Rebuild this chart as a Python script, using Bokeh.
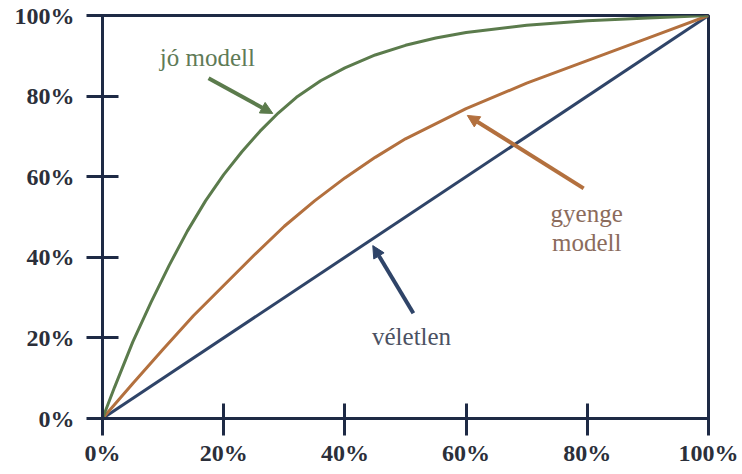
from bokeh.plotting import figure
from bokeh.models import Range1d, NumeralTickFormatter, FixedTicker, Arrow, NormalHead
from bokeh.core.properties import value
from bokeh.embed import file_html
from bokeh.resources import INLINE

# data (fractions)
x_good = [0, 0.02, 0.05, 0.08, 0.11, 0.14, 0.17, 0.20, 0.23, 0.26, 0.29, 0.32, 0.36, 0.40,
          0.45, 0.50, 0.55, 0.60, 0.70, 0.80, 0.90, 1.0]
y_good = [0, 0.078, 0.190, 0.288, 0.380, 0.465, 0.540, 0.605, 0.662, 0.713, 0.758, 0.797,
          0.838, 0.870, 0.902, 0.926, 0.944, 0.958, 0.976, 0.987, 0.994, 1.0]
x_weak = [0, 0.05, 0.10, 0.15, 0.20, 0.25, 0.30, 0.35, 0.40, 0.45, 0.50, 0.60, 0.70, 0.80,
          0.90, 1.0]
y_weak = [0, 0.087, 0.172, 0.255, 0.330, 0.405, 0.477, 0.540, 0.597, 0.648, 0.694, 0.769,
          0.832, 0.888, 0.944, 1.0]
x_rand = [0, 1.0]
y_rand = [0, 1.0]
ticks = [0, 0.2, 0.4, 0.6, 0.8, 1.0]

labels = ["jó modell", "gyenge", "modell", "véletlen"]
label_x = [0.173, 0.799, 0.799, 0.510]
label_y = [0.896, 0.509, 0.437, 0.203]
label_colors = ["#5f7b57", "#8b6b5c", "#8b6b5c", "#4b5162"]

arrow_start_x = [0.175, 0.794, 0.513]
arrow_start_y = [0.844, 0.571, 0.261]
arrow_end_x = [0.281, 0.602, 0.446]
arrow_end_y = [0.757, 0.752, 0.429]

GREEN = "#5b7b4c"
BROWN = "#b3703e"
BLUE = "#2f4468"
AXIS = "#1e2a45"
arrow_colors = [GREEN, BROWN, BLUE]
FONT = "Liberation Serif"

p = figure(width=742, height=474, output_backend="svg", toolbar_location=None,
           x_range=Range1d(0, 1), y_range=Range1d(0, 1),
           min_border_left=102, min_border_right=34, min_border_top=15, min_border_bottom=56)
p.background_fill_color = "white"
p.border_fill_color = "white"
p.grid.visible = False
p.outline_line_color = AXIS
p.outline_line_width = 3

for ax in (p.xaxis[0], p.yaxis[0]):
    ax.ticker = FixedTicker(ticks=ticks)
    ax.formatter = NumeralTickFormatter(format="0%")
    ax.axis_line_color = AXIS
    ax.axis_line_width = 3
    ax.major_tick_line_color = AXIS
    ax.major_tick_line_width = 3
    ax.minor_tick_line_color = None
    ax.major_label_text_font = FONT
    ax.major_label_text_font_style = "bold"
    ax.major_label_text_font_size = "24px"
    ax.major_label_text_color = "#2b2f3a"

p.yaxis.major_tick_out = 16
p.yaxis.major_tick_in = 16
p.yaxis.major_label_standoff = 12
p.xaxis.major_tick_out = 17
p.xaxis.major_tick_in = 15
p.xaxis.major_label_standoff = 4

p.line(x_rand, y_rand, line_color=BLUE, line_width=3)
p.line(x_weak, y_weak, line_color=BROWN, line_width=3)
p.line(x_good, y_good, line_color=GREEN, line_width=3)

for i in range(3):
    p.add_layout(Arrow(end=NormalHead(size=12, fill_color=arrow_colors[i], line_color=arrow_colors[i]),
                       x_start=arrow_start_x[i], y_start=arrow_start_y[i],
                       x_end=arrow_end_x[i], y_end=arrow_end_y[i],
                       line_color=arrow_colors[i], line_width=4))

p.text(x=label_x, y=label_y, text=labels, text_color=label_colors,
       text_font=value(FONT), text_font_size="25px",
       text_align="center", text_baseline="middle")

open("out.html", "w").write(file_html(p, INLINE))
